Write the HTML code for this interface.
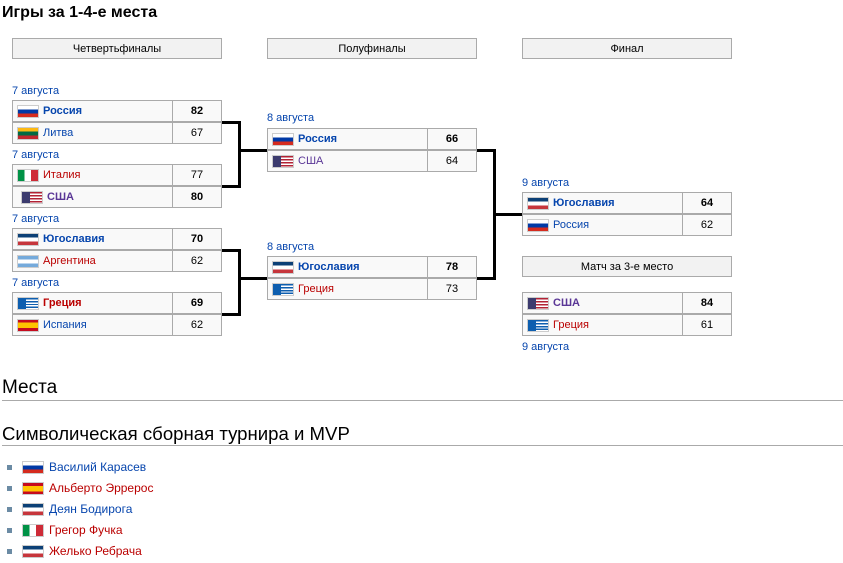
<!DOCTYPE html>
<html><head><meta charset="utf-8"><style>
body{margin:0;width:843px;height:563px;background:#fff;font-family:"Liberation Sans",Arial,sans-serif;position:relative;overflow:hidden}
.a{position:absolute;white-space:nowrap}
.h{position:absolute;height:21px;background:#f2f2f2;border:1px solid #aaa;font-size:11px;text-align:center;line-height:21px;color:#000;box-sizing:border-box}
.d{position:absolute;font-size:11px;color:#0645ad;margin-top:1px}
.r{position:absolute;height:22px;box-sizing:border-box;border:1px solid #aaa;background:#f9f9f9;font-size:11px;line-height:20px}
.n{position:absolute;left:0;top:0;width:160px;height:20px;border-right:1px solid #aaa;padding-left:30px;box-sizing:border-box}
.s{position:absolute;left:160px;top:0;width:48px;text-align:center;color:#000}
.f{position:absolute;left:4px;top:4px;width:22px;height:13px;border:1px solid #ccc;box-sizing:border-box}
.ru{background:linear-gradient(#fff 33%,#0039a6 33% 66%,#d52b1e 66%)}
.lt{background:linear-gradient(#fdb913 33%,#006a44 33% 66%,#c1272d 66%)}
.it{background:linear-gradient(90deg,#009246 33%,#fff 33% 66%,#ce2b37 66%)}
.us{background:linear-gradient(90deg,#3c3b6e 40%,transparent 40%),repeating-linear-gradient(#b22234 0 1.5px,#fff 1.5px 3px)}
.yu{background:linear-gradient(#0c4076 33%,#fff 33% 66%,#c6363c 66%)}
.ar{background:linear-gradient(#75aadb 33%,#fff 33% 66%,#75aadb 66%)}
.gr{background:linear-gradient(90deg,#0d5eaf 40%,transparent 40%),repeating-linear-gradient(#0d5eaf 0 1.45px,#fff 1.45px 2.9px)}
.es{background:linear-gradient(#c60b1e 25%,#ffc400 25% 75%,#c60b1e 75%)}
.b{color:#0645ad;font-weight:bold}.bl{color:#0645ad}.rd{color:#ba0000}.rb{color:#ba0000;font-weight:bold}.pb{color:#5a3696;font-weight:bold}.p{color:#5a3696}
.ln{position:absolute;background:#000}
</style></head><body>
<div class="a" style="left:2px;top:4px;font-size:16px;font-weight:bold">Игры за 1-4-е места</div>
<div class="h" style="left:12px;top:38px;width:210px">Четвертьфиналы</div>
<div class="h" style="left:267px;top:38px;width:210px">Полуфиналы</div>
<div class="h" style="left:522px;top:38px;width:210px">Финал</div>

<div class="d" style="left:12px;top:84px">7 августа</div>
<div class="r" style="left:12px;top:100px;width:210px"><div class="f ru"></div><div class="n b">Россия</div><div class="s"><b>82</b></div></div>
<div class="r" style="left:12px;top:122px;width:210px"><div class="f lt"></div><div class="n bl">Литва</div><div class="s">67</div></div>
<div class="d" style="left:12px;top:148px">7 августа</div>
<div class="r" style="left:12px;top:164px;width:210px"><div class="f it"></div><div class="n rd">Италия</div><div class="s">77</div></div>
<div class="r" style="left:12px;top:186px;width:210px"><div class="f us" style="left:8px"></div><div class="n pb" style="padding-left:34px">США</div><div class="s"><b>80</b></div></div>
<div class="d" style="left:12px;top:212px">7 августа</div>
<div class="r" style="left:12px;top:228px;width:210px"><div class="f yu"></div><div class="n b">Югославия</div><div class="s"><b>70</b></div></div>
<div class="r" style="left:12px;top:250px;width:210px"><div class="f ar"></div><div class="n rd">Аргентина</div><div class="s">62</div></div>
<div class="d" style="left:12px;top:276px">7 августа</div>
<div class="r" style="left:12px;top:292px;width:210px"><div class="f gr"></div><div class="n rb">Греция</div><div class="s"><b>69</b></div></div>
<div class="r" style="left:12px;top:314px;width:210px"><div class="f es"></div><div class="n bl">Испания</div><div class="s">62</div></div>

<div class="d" style="left:267px;top:111px">8 августа</div>
<div class="r" style="left:267px;top:128px;width:210px"><div class="f ru"></div><div class="n b">Россия</div><div class="s"><b>66</b></div></div>
<div class="r" style="left:267px;top:150px;width:210px"><div class="f us"></div><div class="n p">США</div><div class="s">64</div></div>
<div class="d" style="left:267px;top:240px">8 августа</div>
<div class="r" style="left:267px;top:256px;width:210px"><div class="f yu"></div><div class="n b">Югославия</div><div class="s"><b>78</b></div></div>
<div class="r" style="left:267px;top:278px;width:210px"><div class="f gr"></div><div class="n rd">Греция</div><div class="s">73</div></div>

<div class="d" style="left:522px;top:176px">9 августа</div>
<div class="r" style="left:522px;top:192px;width:210px"><div class="f yu"></div><div class="n b">Югославия</div><div class="s"><b>64</b></div></div>
<div class="r" style="left:522px;top:214px;width:210px"><div class="f ru"></div><div class="n bl">Россия</div><div class="s">62</div></div>
<div class="h" style="left:522px;top:256px;width:210px">Матч за 3-е место</div>
<div class="r" style="left:522px;top:292px;width:210px"><div class="f us"></div><div class="n pb">США</div><div class="s"><b>84</b></div></div>
<div class="r" style="left:522px;top:314px;width:210px"><div class="f gr"></div><div class="n rd">Греция</div><div class="s">61</div></div>
<div class="d" style="left:522px;top:340px">9 августа</div>

<div class="ln" style="left:222px;top:121px;width:19px;height:3px"></div>
<div class="ln" style="left:222px;top:185px;width:19px;height:3px"></div>
<div class="ln" style="left:238px;top:121px;width:3px;height:67px"></div>
<div class="ln" style="left:238px;top:149px;width:29px;height:3px"></div>
<div class="ln" style="left:222px;top:249px;width:19px;height:3px"></div>
<div class="ln" style="left:222px;top:313px;width:19px;height:3px"></div>
<div class="ln" style="left:238px;top:249px;width:3px;height:67px"></div>
<div class="ln" style="left:238px;top:277px;width:29px;height:3px"></div>
<div class="ln" style="left:477px;top:149px;width:19px;height:3px"></div>
<div class="ln" style="left:477px;top:277px;width:19px;height:3px"></div>
<div class="ln" style="left:493px;top:149px;width:3px;height:131px"></div>
<div class="ln" style="left:493px;top:213px;width:29px;height:3px"></div>

<div class="a" style="left:2px;top:377px;font-size:19px">Места</div>
<div class="a" style="left:2px;top:400px;width:841px;height:1px;background:#aaa"></div>
<div class="a" style="left:2px;top:423px;font-size:18.6px">Символическая сборная турнира и MVP</div>
<div class="a" style="left:2px;top:445px;width:841px;height:1px;background:#aaa"></div>

<div class="a" style="left:0;top:457px;width:400px;font-size:12px;line-height:21px">
<div style="position:relative;height:21px"><span class="a" style="left:7px;top:8px;width:5px;height:5px;background:#6b8ba4"></span><span class="f ru" style="left:22px;top:4px"></span><span class="a bl" style="left:49px">Василий Карасев</span></div>
<div style="position:relative;height:21px"><span class="a" style="left:7px;top:8px;width:5px;height:5px;background:#6b8ba4"></span><span class="f es" style="left:22px;top:4px"></span><span class="a rd" style="left:49px">Альберто Эррерос</span></div>
<div style="position:relative;height:21px"><span class="a" style="left:7px;top:8px;width:5px;height:5px;background:#6b8ba4"></span><span class="f yu" style="left:22px;top:4px"></span><span class="a bl" style="left:49px">Деян Бодирога</span></div>
<div style="position:relative;height:21px"><span class="a" style="left:7px;top:8px;width:5px;height:5px;background:#6b8ba4"></span><span class="f it" style="left:22px;top:4px"></span><span class="a rd" style="left:49px">Грегор Фучка</span></div>
<div style="position:relative;height:21px"><span class="a" style="left:7px;top:8px;width:5px;height:5px;background:#6b8ba4"></span><span class="f yu" style="left:22px;top:4px"></span><span class="a rd" style="left:49px">Желько Ребрача</span></div>
</div>
</body></html>
